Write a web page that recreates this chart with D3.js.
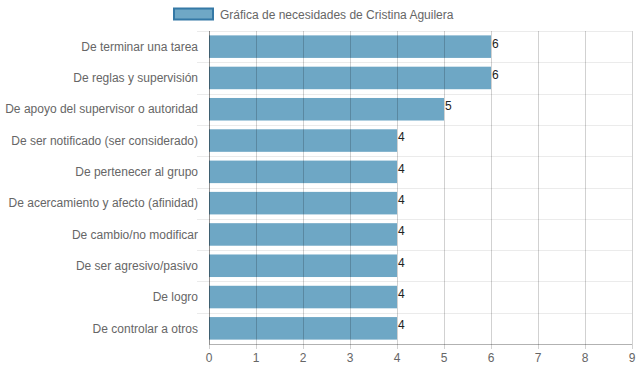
<!DOCTYPE html>
<html>
<head>
<meta charset="utf-8">
<script src="https://cdn.jsdelivr.net/npm/d3@7"></script>
<style>
  body { margin: 0; background: #fff; }
  text { font-family: "Liberation Sans", Arial, sans-serif; }
</style>
</head>
<body>
<script>
// Datos de la gráfica
const categorias = [
  "De terminar una tarea",
  "De reglas y supervisión",
  "De apoyo del supervisor o autoridad",
  "De ser notificado (ser considerado)",
  "De pertenecer al grupo",
  "De acercamiento y afecto (afinidad)",
  "De cambio/no modificar",
  "De ser agresivo/pasivo",
  "De logro",
  "De controlar a otros"
];
const valores = [6, 6, 5, 4, 4, 4, 4, 4, 4, 4];
const ticksX = [0, 1, 2, 3, 4, 5, 6, 7, 8, 9];
const tituloSerie = "Gráfica de necesidades de Cristina Aguilera";

const width = 639, height = 372;
const margen = { top: 31, right: 7, bottom: 28, left: 209 };

const svg = d3.select("body").append("svg")
  .attr("width", width)
  .attr("height", height);

const x = d3.scaleLinear().domain([0, 9]).range([margen.left, width - margen.right]);
const y = d3.scaleBand().domain(categorias)
  .range([margen.top, height - margen.bottom])
  .paddingInner(0.28).paddingOuter(0.14);

// Banda completa para las líneas horizontales
const banda = d3.scaleBand().domain(categorias).range([margen.top, height - margen.bottom]);

// Leyenda
svg.append("rect")
  .attr("x", 174).attr("y", 8.5).attr("width", 39).attr("height", 11)
  .attr("fill", "#6fa8c6").attr("stroke", "#3579a6").attr("stroke-width", 2);
svg.append("text")
  .attr("x", 220).attr("y", 18.5)
  .attr("font-size", 12).attr("fill", "#666")
  .text(tituloSerie);

// Líneas horizontales
svg.append("g").selectAll("line")
  .data(categorias.slice(1))
  .enter().append("line")
  .attr("x1", margen.left - 12).attr("x2", x(9))
  .attr("y1", d => Math.round(banda(d)) + 0.5)
  .attr("y2", d => Math.round(banda(d)) + 0.5)
  .attr("stroke", "#ebebeb");
svg.append("line")
  .attr("x1", margen.left - 12).attr("x2", x(9))
  .attr("y1", margen.top + 0.5).attr("y2", margen.top + 0.5)
  .attr("stroke", "#ebebeb");

// Barras
svg.append("g").selectAll("rect")
  .data(valores)
  .enter().append("rect")
  .attr("x", x(0))
  .attr("y", (d, i) => y(categorias[i]))
  .attr("width", d => x(d) - x(0))
  .attr("height", y.bandwidth())
  .attr("fill", "#6ea7c5");

// Líneas verticales (encima de las barras)
svg.append("g").selectAll("line")
  .data(ticksX)
  .enter().append("line")
  .attr("x1", d => Math.round(x(d)) + 0.5)
  .attr("x2", d => Math.round(x(d)) + 0.5)
  .attr("y1", margen.top)
  .attr("y2", height - margen.bottom + 5)
  .attr("stroke", "rgba(0,0,0,0.18)");

// Eje Y
svg.append("line")
  .attr("x1", margen.left + 0.5).attr("x2", margen.left + 0.5)
  .attr("y1", margen.top).attr("y2", height - margen.bottom)
  .attr("stroke", "rgba(0,0,0,0.3)");

// Eje X
svg.append("line")
  .attr("x1", margen.left).attr("x2", x(9))
  .attr("y1", height - margen.bottom + 0.5).attr("y2", height - margen.bottom + 0.5)
  .attr("stroke", "rgba(0,0,0,0.3)");

// Etiquetas de categorías
svg.append("g").selectAll("text")
  .data(categorias)
  .enter().append("text")
  .attr("x", margen.left - 11)
  .attr("y", d => y(d) + y.bandwidth() / 2)
  .attr("dy", "0.35em")
  .attr("text-anchor", "end")
  .attr("font-size", 12).attr("fill", "#666")
  .text(d => d);

// Etiquetas del eje X
svg.append("g").selectAll("text")
  .data(ticksX)
  .enter().append("text")
  .attr("x", d => x(d))
  .attr("y", height - margen.bottom + 18)
  .attr("text-anchor", "middle")
  .attr("font-size", 12).attr("fill", "#666")
  .text(d => d);

// Valores al final de cada barra
svg.append("g").selectAll("text")
  .data(valores)
  .enter().append("text")
  .attr("x", d => x(d) + 1)
  .attr("y", (d, i) => y(categorias[i]) + 8)
  .attr("dy", "0.35em")
  .attr("font-size", 12).attr("fill", "#222")
  .text(d => d);
</script>
</body>
</html>
